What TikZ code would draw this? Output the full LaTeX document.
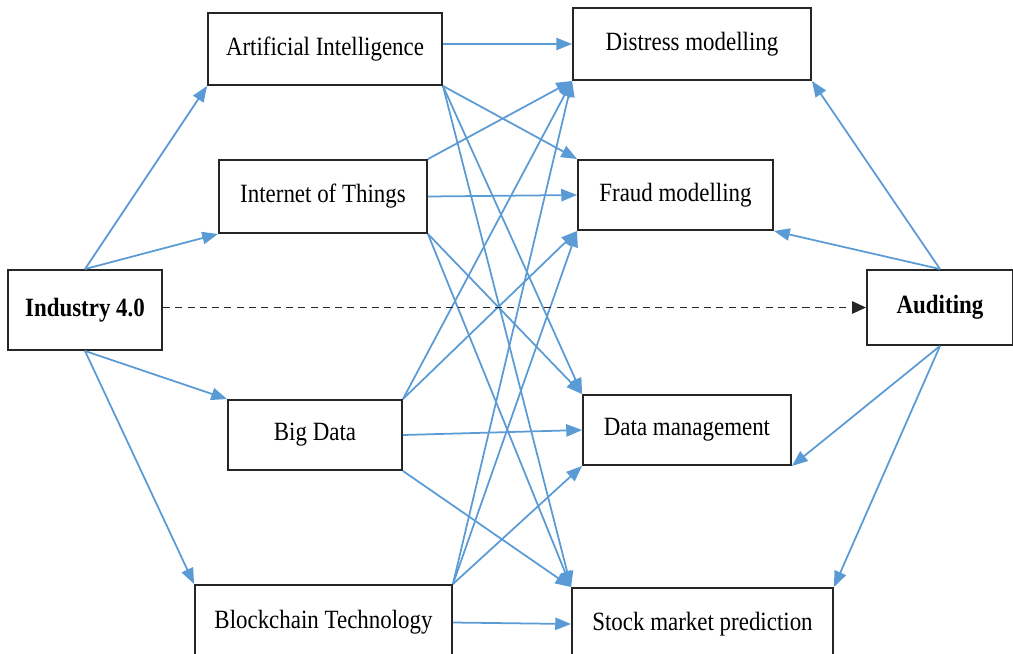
\documentclass[tikz,border=0pt]{standalone}
\usepackage{fontspec}
\setmainfont{Liberation Serif}[FakeStretch=0.87]
\usepackage{tikz}
\usetikzlibrary{positioning, arrows.meta}
\definecolor{linkblue}{HTML}{5B9BD5}

\begin{document}
\begin{tikzpicture}[x=0.02cm, y=-0.02cm,
  box/.style={draw=black!85, line width=1.1pt, fill=white, inner sep=0pt,
    font=\fontsize{15}{18}\selectfont},
  link/.style={draw=linkblue, line width=1pt, -{Triangle[length=9pt,width=7pt]}}]
\useasboundingbox (0,0) rectangle (1013,653);

% technologies
\node[box, minimum width=3.08cm, minimum height=1.6cm, font=\fontsize{15}{18}\selectfont\bfseries] (ind) at (85,310) {Industry 4.0};
\node[box, minimum width=4.68cm, minimum height=1.44cm] (ai) at (325,49) {Artificial Intelligence};
\node[box, minimum width=4.16cm, minimum height=1.46cm] (iot) at (323,196.5) {Internet of Things};
\node[box, minimum width=3.48cm, minimum height=1.4cm] (bd) at (315,435) {Big Data};
\node[box, minimum width=5.14cm, minimum height=1.5cm] (bc) at (323.5,622.5) {Blockchain Technology};

% auditing tasks
\node[box, minimum width=4.76cm, minimum height=1.44cm] (dist) at (692,44) {Distress modelling};
\node[box, minimum width=3.9cm, minimum height=1.4cm] (fraud) at (675.5,195) {Fraud modelling};
\node[box, minimum width=4.16cm, minimum height=1.4cm] (data) at (687,430) {Data management};
\node[box, minimum width=5.22cm, minimum height=1.44cm] (stock) at (702.5,624) {Stock market prediction};
\node[box, minimum width=2.92cm, minimum height=1.5cm, font=\fontsize{15}{18}\selectfont\bfseries] (aud) at (940,307.5) {Auditing};

% industry 4.0 to technologies
\draw[link] (ind.north) -- (ai.south west);
\draw[link] (ind.north) -- (iot.south west);
\draw[link] (ind.south) -- (bd.north west);
\draw[link] (ind.south) -- (bc.north west);

% technologies to tasks
\draw[link] (ai.east |- dist.west) -- (dist.west);
\draw[link] (ai.south east) -- (fraud.north west);
\draw[link] (ai.south east) -- (data.north west);
\draw[link] (ai.south east) -- (stock.north west);

\draw[link] (iot.north east) -- (dist.south west);
\draw[link] (iot.east) -- (fraud.west);
\draw[link] (iot.south east) -- (data.north west);
\draw[link] (iot.south east) -- (stock.north west);

\draw[link] (bd.north east) -- (dist.south west);
\draw[link] (bd.north east) -- (fraud.south west);
\draw[link] (bd.east) -- (data.west);
\draw[link] (bd.south east) -- (stock.north west);

\draw[link] (bc.north east) -- (dist.south west);
\draw[link] (bc.north east) -- (fraud.south west);
\draw[link] (bc.north east) -- (data.south west);
\draw[link] (bc.east) -- (stock.west);

% auditing to tasks
\draw[link] (aud.north) -- (dist.south east);
\draw[link] (aud.north) -- (fraud.south east);
\draw[link] (aud.south) -- (data.south east);
\draw[link] (aud.south) -- (stock.north east);

\draw[black!85, line width=1.1pt, dash pattern=on 4pt off 3pt, -{Triangle[length=8pt,width=7pt]}] (ind.east |- aud.west) -- (aud.west);
\end{tikzpicture}
\end{document}
